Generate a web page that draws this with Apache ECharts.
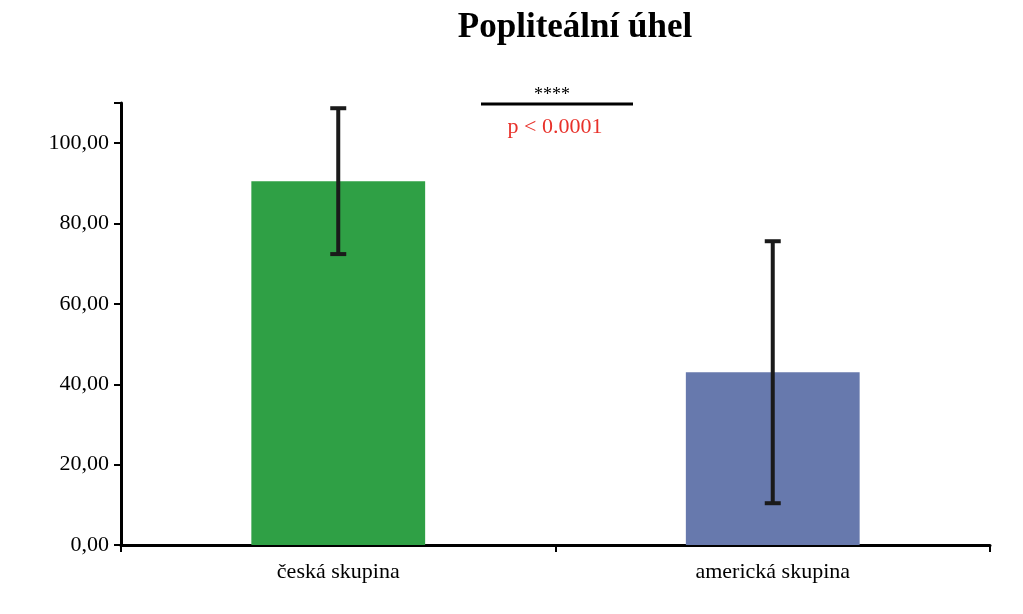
<!DOCTYPE html><html><head><meta charset="utf-8">
<script src="https://cdn.jsdelivr.net/npm/echarts@6/dist/echarts.min.js"></script>
<style>html,body{margin:0;background:#fff}#c{width:1023px;height:614px}</style></head><body><div id="c"></div>
<script>
const categories=['česká skupina','americká skupina'];
const means=[90.5,43.0];
const errLow=[72.4,10.4];
const errHigh=[108.7,75.6];
const barColors=['#2fa045','#6779ad'];
const F='Liberation Serif';
const chart=echarts.init(document.getElementById('c'));
chart.setOption({
 animation:false,
 title:{text:'Popliteální úhel',left:570,top:5,textAlign:'center',textStyle:{fontFamily:F,fontSize:35,fontWeight:'bold',color:'#000'}},
 grid:{left:121,right:33,top:103,bottom:69},
 xAxis:{type:'category',data:categories,axisLine:{lineStyle:{color:'#000',width:3}},axisTick:{show:true,length:7,lineStyle:{width:2,color:'#000'}},
  axisLabel:{fontFamily:F,fontSize:22,color:'#000',margin:16}},
 yAxis:{type:'value',min:0,max:110,interval:20,splitLine:{show:false},
  axisLine:{show:true,lineStyle:{color:'#000',width:3}},axisTick:{show:true,length:7,lineStyle:{width:2,color:'#000'}},
  axisLabel:{fontFamily:F,fontSize:22,color:'#000',margin:12,formatter:v=>v>100?'':v.toFixed(2).replace('.',',')}},
 series:[
  {type:'bar',barWidth:'40%',data:means.map((v,i)=>({value:v,itemStyle:{color:barColors[i]}}))},
  {type:'custom',data:means.map((v,i)=>[i,errLow[i],errHigh[i]]),z:10,
   renderItem:(p,api)=>{const lo=api.coord([api.value(0),api.value(1)]),hi=api.coord([api.value(0),api.value(2)]);const w=8;const s={stroke:'#1a1a1a',lineWidth:4};
    return {type:'group',children:[
     {type:'line',shape:{x1:lo[0],y1:lo[1],x2:hi[0],y2:hi[1]},style:s},
     {type:'line',shape:{x1:lo[0]-w,y1:lo[1],x2:lo[0]+w,y2:lo[1]},style:s},
     {type:'line',shape:{x1:hi[0]-w,y1:hi[1],x2:hi[0]+w,y2:hi[1]},style:s}]};}}
 ],
 graphic:[
  {type:'line',shape:{x1:481,y1:104,x2:633,y2:104},style:{stroke:'#000',lineWidth:3}},
  {type:'text',x:552,y:86,style:{text:'****',font:'18px "Liberation Serif"',fill:'#000',textAlign:'center'}},
  {type:'text',x:555,y:116,style:{text:'p < 0.0001',font:'22px "Liberation Serif"',fill:'#e8312a',textAlign:'center'}}
 ]
});
</script></body></html>
